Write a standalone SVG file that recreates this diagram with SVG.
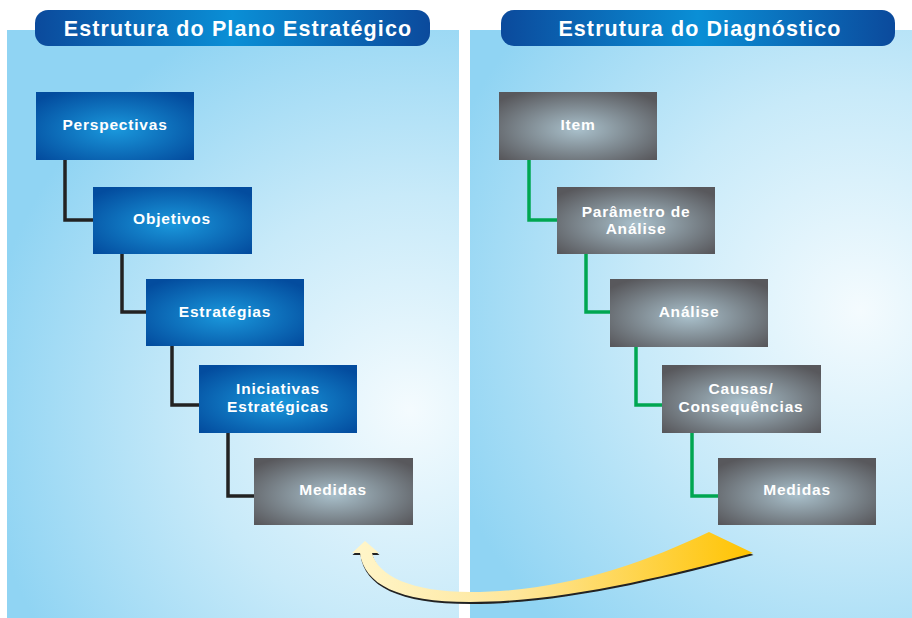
<svg xmlns="http://www.w3.org/2000/svg" width="912" height="618" viewBox="0 0 912 618">
<defs>
<radialGradient id="bgL" gradientUnits="userSpaceOnUse" cx="410" cy="410" r="430">
<stop offset="0" stop-color="#f4fbfe"/><stop offset="0.5" stop-color="#c8eaf9"/><stop offset="1" stop-color="#90d4f3"/>
</radialGradient>
<radialGradient id="bgR" gradientUnits="userSpaceOnUse" cx="860" cy="310" r="440">
<stop offset="0" stop-color="#f4fbfe"/><stop offset="0.5" stop-color="#c8eaf9"/><stop offset="1" stop-color="#90d4f3"/>
</radialGradient>
<linearGradient id="pill" x1="0" y1="0" x2="1" y2="0">
<stop offset="0" stop-color="#0b4a9c"/><stop offset="0.5" stop-color="#0a8fd6"/><stop offset="1" stop-color="#0b4a9c"/>
</linearGradient>
<radialGradient id="blue" cx="0.5" cy="0.55" r="0.65">
<stop offset="0" stop-color="#1a98dc"/><stop offset="1" stop-color="#034c9e"/>
</radialGradient>
<radialGradient id="gray" cx="0.5" cy="0.55" r="0.65">
<stop offset="0" stop-color="#a9c0cb"/><stop offset="1" stop-color="#58585c"/>
</radialGradient>
<linearGradient id="arrowG" gradientUnits="userSpaceOnUse" x1="360" y1="0" x2="755" y2="0">
<stop offset="0" stop-color="#fff5c8"/><stop offset="0.4" stop-color="#fee69a"/><stop offset="1" stop-color="#ffc300"/>
</linearGradient>
<filter id="sh" x="-10%" y="-10%" width="120%" height="130%">
<feGaussianBlur stdDeviation="0.6"/>
</filter>
</defs>
<style>
.lbl{font-family:"Liberation Sans",Arial,sans-serif;font-weight:bold;font-size:15.5px;fill:#ffffff;text-anchor:middle;letter-spacing:0.8px}
.hdr{font-family:"Liberation Sans",Arial,sans-serif;font-weight:bold;font-size:21.5px;fill:#ffffff;text-anchor:middle;letter-spacing:1.1px}
.cb{fill:none;stroke:#222222;stroke-width:3.5;stroke-linejoin:miter}
.cg{fill:none;stroke:#00a651;stroke-width:3.5;stroke-linejoin:miter}
</style>
<rect x="0" y="0" width="912" height="618" fill="#ffffff"/>
<rect x="7" y="30" width="452" height="588" fill="url(#bgL)"/>
<rect x="470" y="30" width="442" height="588" fill="url(#bgR)"/>

<g id="header-left">
<rect x="35" y="10" width="395" height="36" rx="13" fill="url(#pill)"/>
<text class="hdr" x="238" y="36">Estrutura do Plano Estratégico</text>
</g>
<g id="header-right">
<rect x="501" y="10" width="394" height="36" rx="13" fill="url(#pill)"/>
<text class="hdr" x="700" y="36">Estrutura do Diagnóstico</text>
</g>

<g id="connectors">
<polyline class="cb" points="65,159 65,220 94,220"/>
<polyline class="cb" points="122,253 122,312 147,312"/>
<polyline class="cb" points="172,346 172,405 200,405"/>
<polyline class="cb" points="228,432 228,496 255,496"/>
<polyline class="cg" points="529,159 529,220 558,220"/>
<polyline class="cg" points="586,253 586,312 611,312"/>
<polyline class="cg" points="636,346 636,405 663,405"/>
<polyline class="cg" points="692,432 692,496 719,496"/>
<g id="feedback-arrow">
<path d="M365,541 L379,553 L372,553 C378,576 412,592 470,592 C560,592 640,565 709,532 L753,553 C660,578 560,602 470,602 C398,602 364,584 360,553 L352,553 Z" fill="#222222" transform="translate(0.5,2)" filter="url(#sh)"/>
<path d="M365,541 L379,553 L372,553 C378,576 412,592 470,592 C560,592 640,565 709,532 L753,553 C660,578 560,602 470,602 C398,602 364,584 360,553 L352,553 Z" fill="url(#arrowG)"/>
</g>
</g>

<g id="n-perspectivas"><rect x="36" y="92" width="158" height="68" fill="url(#blue)"/><text class="lbl" x="115" y="130">Perspectivas</text></g>
<g id="n-objetivos"><rect x="93" y="187" width="159" height="67" fill="url(#blue)"/><text class="lbl" x="172" y="224">Objetivos</text></g>
<g id="n-estrategias"><rect x="146" y="279" width="158" height="67" fill="url(#blue)"/><text class="lbl" x="225" y="317">Estratégias</text></g>
<g id="n-iniciativas"><rect x="199" y="365" width="158" height="68" fill="url(#blue)"/><text class="lbl" x="278" y="394">Iniciativas</text><text class="lbl" x="278" y="412">Estratégicas</text></g>
<g id="n-medidas-l"><rect x="254" y="458" width="159" height="67" fill="url(#gray)"/><text class="lbl" x="333" y="495">Medidas</text></g>

<g id="n-item"><rect x="499" y="92" width="158" height="68" fill="url(#gray)"/><text class="lbl" x="578" y="130">Item</text></g>
<g id="n-parametro"><rect x="557" y="187" width="158" height="67" fill="url(#gray)"/><text class="lbl" x="636" y="217">Parâmetro de</text><text class="lbl" x="636" y="234">Análise</text></g>
<g id="n-analise"><rect x="610" y="279" width="158" height="68" fill="url(#gray)"/><text class="lbl" x="689" y="317">Análise</text></g>
<g id="n-causas"><rect x="662" y="365" width="159" height="68" fill="url(#gray)"/><text class="lbl" x="741" y="394">Causas/</text><text class="lbl" x="741" y="412">Consequências</text></g>
<g id="n-medidas-r"><rect x="718" y="458" width="158" height="67" fill="url(#gray)"/><text class="lbl" x="797" y="495">Medidas</text></g>
</svg>
